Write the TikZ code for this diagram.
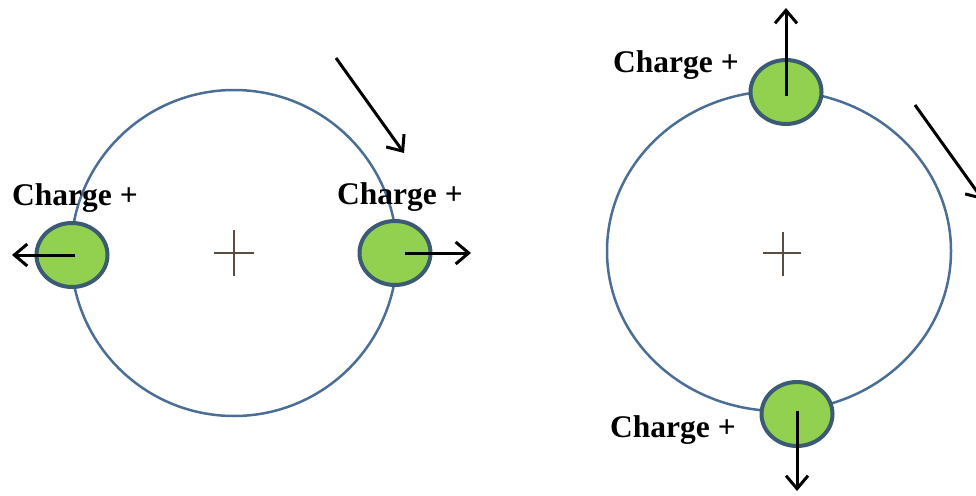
\documentclass[tikz,border=0pt]{standalone}
\usepackage{fontspec}
\setmainfont{Liberation Serif}
\usetikzlibrary{arrows.meta,shapes.geometric}
\definecolor{orbitblue}{HTML}{4A6E96}
\definecolor{chargegreen}{HTML}{92D050}
\definecolor{chargeedge}{HTML}{3B5A73}
\definecolor{crosscol}{HTML}{5A4C40}
\tikzset{
  orbit/.style={draw=orbitblue, line width=2.5pt, ellipse, inner sep=0pt},
  charge/.style={ellipse, draw=chargeedge, fill=chargegreen, line width=4pt, minimum width=71pt, minimum height=64pt, inner sep=0pt},
  force/.style={draw=black, line width=3pt, -{Straight Barb[length=13pt,width=22pt,line width=3pt]}},
  lbl/.style={font=\fontsize{31.5}{36}\selectfont\bfseries, inner sep=0pt, text=black},
  crossline/.style={draw=crosscol, line width=1.5pt}
}
\begin{document}
\begin{tikzpicture}[x=1pt,y=-1pt]
\useasboundingbox (0,0) rectangle (976,495);
\clip (0,0) rectangle (976,495);
% left orbit
\node[orbit, minimum width=326pt, minimum height=326pt] (orbitL) at (234,253) {};
\draw[crossline] (214,253) -- (254,253);
\draw[crossline] (234,230) -- (234,276);
% right orbit
\node[orbit, minimum width=344pt, minimum height=320pt] (orbitR) at (779,251) {};
\draw[crossline] (763,253) -- (801,253);
\draw[crossline] (783,232) -- (783,276);
% charges
\node[charge] (qL) at (72,255) {};
\node[charge] (qR) at (395,253) {};
\node[charge] (qT) at (786,92) {};
\node[charge] (qB) at (797,414) {};
% arrow endpoints
\coordinate (eL) at (12,255);
\coordinate (eR) at (471,253);
\coordinate (eT) at (786,8);
\coordinate (eB) at (797,491);
\coordinate (d1s) at (336,58);
\coordinate (d1e) at (404,153);
\coordinate (d2s) at (915,105);
\coordinate (d2e) at (983,200);
% force arrows
\draw[force] ([xshift=3pt]qL.center) -- (eL);
\draw[force] ([xshift=10pt]qR.center) -- (eR);
\draw[force] ([yshift=-4pt]qT.center) -- (eT);
\draw[force] ([yshift=3pt]qB.center) -- (eB);
\draw[force] (d1s) -- (d1e);
\draw[force] (d2s) -- (d2e);
% labels
\node[lbl, anchor=west] (tL) at (12,198) {Charge +};
\node[lbl, anchor=west] (tR) at (337,197) {Charge +};
\node[lbl, anchor=west] (tT) at (613,65) {Charge +};
\node[lbl, anchor=west] (tB) at (610,430) {Charge +};
\end{tikzpicture}
\end{document}
